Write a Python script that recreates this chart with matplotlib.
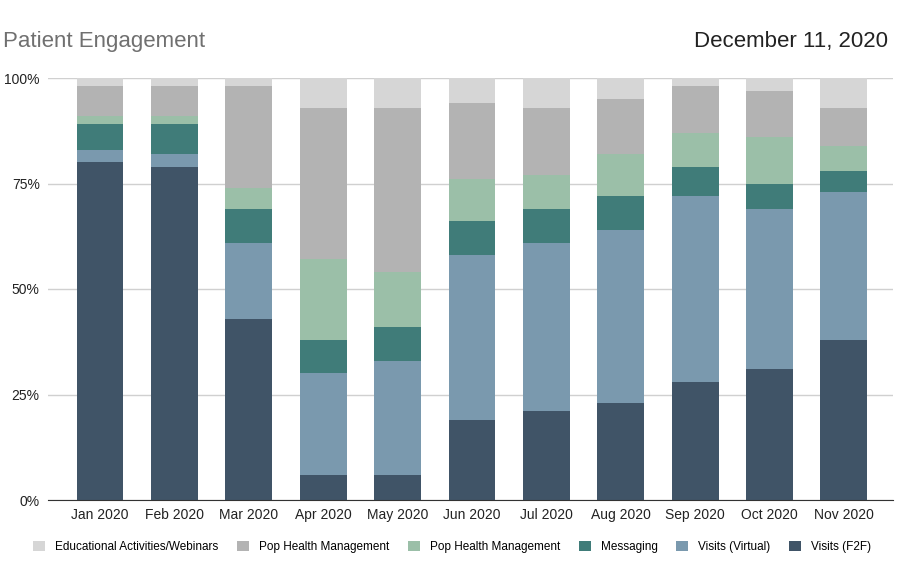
import numpy as np
import matplotlib.pyplot as plt

plt.rcParams['font.family'] = ['Liberation Sans', 'DejaVu Sans']

months = ['Jan 2020', 'Feb 2020', 'Mar 2020', 'Apr 2020', 'May 2020', 'Jun 2020',
          'Jul 2020', 'Aug 2020', 'Sep 2020', 'Oct 2020', 'Nov 2020']

# values in % (bottom -> top)
visits_f2f = [80, 79, 43, 6, 6, 19, 21, 23, 28, 31, 38]
visits_virtual = [3, 3, 18, 24, 27, 39, 40, 41, 44, 38, 35]
messaging = [6, 7, 8, 8, 8, 8, 8, 8, 7, 6, 5]
pop_health_green = [2, 2, 5, 19, 13, 10, 8, 10, 8, 11, 6]
pop_health_gray = [7, 7, 24, 36, 39, 18, 16, 13, 11, 11, 9]
educational = [2, 2, 2, 7, 7, 6, 7, 5, 2, 3, 7]

series = [
    ('Visits (F2F)', visits_f2f, '#405467'),
    ('Visits (Virtual)', visits_virtual, '#7a99ae'),
    ('Messaging', messaging, '#407c79'),
    ('Pop Health Management', pop_health_green, '#9bbfa8'),
    ('Pop Health Management', pop_health_gray, '#b3b3b3'),
    ('Educational Activities/Webinars', educational, '#d6d6d6'),
]

fig = plt.figure(figsize=(9, 5.83), dpi=100)
ax = fig.add_axes([48 / 900, 1 - 500 / 583, (893 - 48) / 900, (500 - 78) / 583])

x = np.arange(len(months))
bottom = np.zeros(len(months))
handles = []
for name, vals, color in series:
    b = ax.bar(x, vals, width=0.63, bottom=bottom, color=color, label=name, zorder=2)
    handles.append(b)
    bottom += np.array(vals)

ax.set_xlim(-0.7, 10.66)
ax.set_ylim(0, 100)
ax.set_yticks([0, 25, 50, 75, 100])
ax.set_yticklabels(['0%', '25%', '50%', '75%', '100%'])
ax.set_xticks(x)
ax.set_xticklabels(months)
ax.tick_params(axis='both', length=0, labelsize=10, colors='#222222')
ax.tick_params(axis='x', pad=6)
ax.tick_params(axis='y', pad=6)
ax.grid(axis='y', color='#d0d0d0', linewidth=1, zorder=0)
for s in ['top', 'right', 'left']:
    ax.spines[s].set_visible(False)
ax.spines['bottom'].set_color('#333333')

fig.text(3 / 900, 1 - 41 / 583, 'Patient Engagement', fontsize=16, color='#707070',
         ha='left', va='center')
fig.text(888 / 900, 1 - 41 / 583, 'December 11, 2020', fontsize=16, color='#222222',
         ha='right', va='center')

# legend order: top series first
h = handles[::-1]
labels = [s[0] for s in series][::-1]
fig.legend(h, labels, loc='center', bbox_to_anchor=(452 / 900, 1 - 547 / 583), ncol=6,
           frameon=False, fontsize=8.5, handlelength=1.0, handleheight=1.0,
           columnspacing=1.6, handletextpad=0.85)

plt.savefig('out.png', dpi=100)
